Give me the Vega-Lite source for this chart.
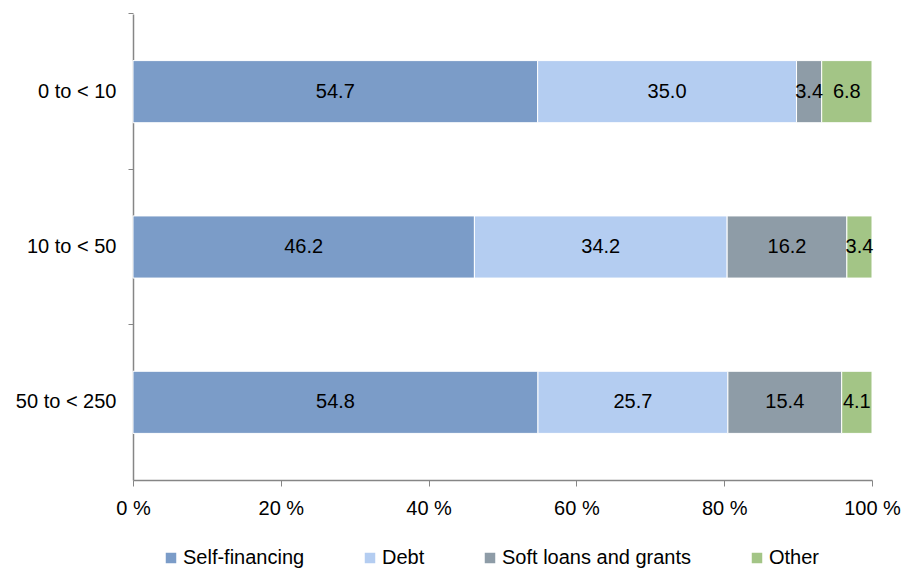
{
  "$schema": "https://vega.github.io/schema/vega-lite/v6.json",
  "autosize": "none",
  "width": 739,
  "height": 466,
  "padding": {"left": 133, "top": 14, "right": 31, "bottom": 88},
  "background": "white",
  "config": {
    "view": {"stroke": null},
    "font": "Liberation Sans",
    "axis": {"grid": false, "domainColor": "#868686", "tickColor": "#868686", "labelColor": "#000000", "labelFont": "Liberation Sans", "labelFontSize": 20, "titleFontSize": 0}
  },
  "data": {
    "values": [
      {"size": "0 to < 10", "source": "Self-financing", "order": 1, "value": 54.7},
      {"size": "0 to < 10", "source": "Debt", "order": 2, "value": 35.0},
      {"size": "0 to < 10", "source": "Soft loans and grants", "order": 3, "value": 3.4},
      {"size": "0 to < 10", "source": "Other", "order": 4, "value": 6.8},
      {"size": "10 to < 50", "source": "Self-financing", "order": 1, "value": 46.2},
      {"size": "10 to < 50", "source": "Debt", "order": 2, "value": 34.2},
      {"size": "10 to < 50", "source": "Soft loans and grants", "order": 3, "value": 16.2},
      {"size": "10 to < 50", "source": "Other", "order": 4, "value": 3.4},
      {"size": "50 to < 250", "source": "Self-financing", "order": 1, "value": 54.8},
      {"size": "50 to < 250", "source": "Debt", "order": 2, "value": 25.7},
      {"size": "50 to < 250", "source": "Soft loans and grants", "order": 3, "value": 15.4},
      {"size": "50 to < 250", "source": "Other", "order": 4, "value": 4.1}
    ]
  },
  "transform": [
    {"stack": "value", "groupby": ["size"], "sort": [{"field": "order"}], "offset": "normalize", "as": ["x0", "x1"]},
    {"calculate": "(datum.x0 + datum.x1) / 2", "as": "xmid"}
  ],
  "encoding": {
    "y": {
      "field": "size", "type": "nominal", "title": null,
      "sort": ["0 to < 10", "10 to < 50", "50 to < 250"],
      "scale": {"paddingInner": 0.6, "paddingOuter": 0.3},
      "axis": {"bandPosition": -0.75, "tickSize": 5, "labelPadding": 12, "domainWidth": 1.5}
    }
  },
  "layer": [
    {
      "mark": {"type": "bar", "stroke": "white", "strokeWidth": 1},
      "encoding": {
        "x": {
          "field": "x0", "type": "quantitative", "title": null,
          "scale": {"domain": [0, 1], "nice": false},
          "axis": {"values": [0, 0.2, 0.4, 0.6, 0.8, 1], "labelExpr": "round(datum.value * 100) + ' %'", "tickSize": 6, "labelPadding": 12, "domainWidth": 1.5, "labelFlush": false}
        },
        "x2": {"field": "x1"},
        "color": {
          "field": "source", "type": "nominal", "title": null,
          "sort": ["Self-financing", "Debt", "Soft loans and grants", "Other"],
          "scale": {
            "domain": ["Self-financing", "Debt", "Soft loans and grants", "Other"],
            "range": ["#7b9cc8", "#b4cdf1", "#8e9ca7", "#a3c586"]
          },
          "legend": {
            "orient": "none", "direction": "horizontal", "legendX": 28, "legendY": 534,
            "symbolType": "square", "symbolSize": 110, "symbolStrokeWidth": 0,
            "labelFontSize": 20, "labelFont": "Liberation Sans", "labelColor": "#000000", "labelLimit": 0,
            "columnPadding": 55, "labelOffset": 2, "symbolOffset": 0
          }
        }
      }
    },
    {
      "mark": {"type": "text", "fontSize": 20, "font": "Liberation Sans", "color": "#000000"},
      "encoding": {
        "x": {"field": "xmid", "type": "quantitative"},
        "text": {"field": "value", "type": "quantitative", "format": ".1f"}
      }
    }
  ]
}
